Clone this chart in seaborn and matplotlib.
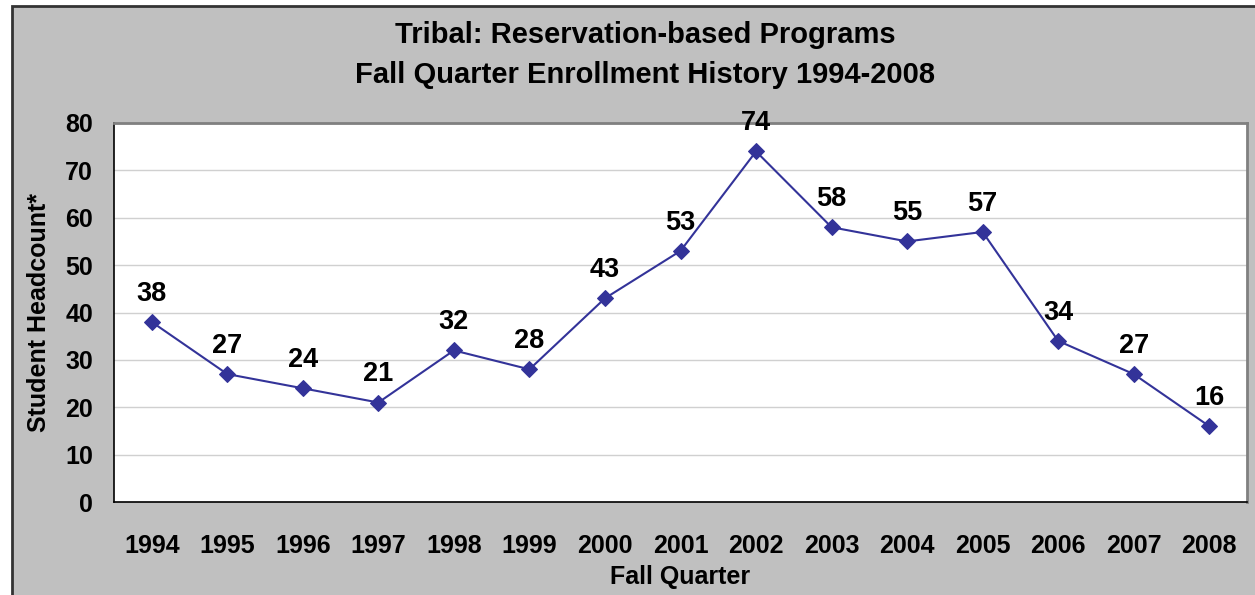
import matplotlib.pyplot as plt
import numpy as np
import pandas as pd
import seaborn as sns
from matplotlib.patches import Rectangle

# enrollment data
years = ['1994', '1995', '1996', '1997', '1998', '1999', '2000', '2001',
         '2002', '2003', '2004', '2005', '2006', '2007', '2008']
headcount = [38, 27, 24, 21, 32, 28, 43, 53, 74, 58, 55, 57, 34, 27, 16]
y_ticks = [0, 10, 20, 30, 40, 50, 60, 70, 80]

sns.set_style('white')
plt.rcParams['font.family'] = ['Liberation Sans', 'DejaVu Sans']
plt.rcParams['font.weight'] = 'bold'
plt.rcParams['text.color'] = 'black'
plt.rcParams['axes.labelcolor'] = 'black'
plt.rcParams['xtick.color'] = 'black'
plt.rcParams['ytick.color'] = 'black'

df = pd.DataFrame({'pos': np.arange(len(years)), 'count': headcount})

fig = plt.figure(figsize=(12.55, 5.95), dpi=100)
fig.patch.set_facecolor('white')
# grey chart area with dark border
bg = Rectangle((12 / 1255, -0.1), 1.2, (595 - 6) / 595 + 0.1,
               transform=fig.transFigure, facecolor='#C0C0C0',
               edgecolor='#333333', linewidth=2, zorder=-5)
fig.patches.append(bg)

ax = fig.add_axes([114 / 1255, 1 - 502 / 595, (1247 - 114) / 1255, (502 - 123) / 595])
ax.set_zorder(1)
ax.set_facecolor('white')

sns.lineplot(data=df, x='pos', y='count', ax=ax, color='#333399', linewidth=1.5,
             marker='D', markersize=8, markeredgecolor='#333399', zorder=3)

for x, v in zip(df['pos'], df['count']):
    ax.annotate(str(v), (x, v), xytext=(0, 11), textcoords='offset points',
                ha='center', va='bottom', fontsize=19.5, fontweight='bold')

ax.set_xlim(-0.5, len(years) - 0.5)
ax.set_ylim(0, 80)
ax.set_yticks(y_ticks)
ax.set_yticklabels([str(t) for t in y_ticks], fontsize=18, fontweight='bold')
ax.yaxis.grid(True, color='#D0D0D0', linewidth=1)
ax.set_axisbelow(True)

# category ticks sit between the years
ax.set_xticks(np.arange(-0.5, len(years)), minor=False)
ax.set_xticklabels([])
ax.set_xticks(np.arange(len(years)), minor=True)
ax.set_xticklabels(years, minor=True, fontsize=18, fontweight='bold')
ax.tick_params(axis='x', which='major', direction='out', length=7, color='black')
ax.tick_params(axis='x', which='minor', length=0, pad=23)
ax.tick_params(axis='y', direction='out', length=7, color='black', pad=8)

for side in ['left', 'bottom']:
    ax.spines[side].set_color('black')
    ax.spines[side].set_linewidth(1.2)
for side in ['top', 'right']:
    ax.spines[side].set_visible(True)
    ax.spines[side].set_color('#808080')
    ax.spines[side].set_linewidth(2)

ax.set_xlabel('Fall Quarter', fontsize=18, fontweight='bold', labelpad=5)
ax.set_ylabel('Student Headcount*', fontsize=18, fontweight='bold', labelpad=10)

fig.text(645 / 1255, 1 - 35 / 595, 'Tribal: Reservation-based Programs',
         ha='center', va='center', fontsize=21, fontweight='bold')
fig.text(645 / 1255, 1 - 75 / 595, 'Fall Quarter Enrollment History 1994-2008',
         ha='center', va='center', fontsize=21, fontweight='bold')

fig.savefig('out.png', dpi=100, facecolor=fig.get_facecolor())
